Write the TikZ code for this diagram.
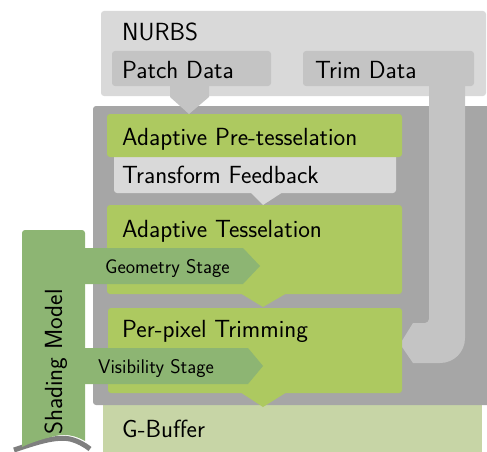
\documentclass[tikz,border=0pt]{standalone}
\usepackage{fontspec}
\definecolor{lgray}{HTML}{D9D9D9}
\definecolor{mgray}{HTML}{C4C4C4}
\definecolor{dgray}{HTML}{A6A6A6}
\definecolor{leaf}{HTML}{ADC960}
\definecolor{sage}{HTML}{8DB573}
\definecolor{pale}{HTML}{C7D5A6}
\definecolor{curl}{HTML}{7F7F7F}
\begin{document}
\begin{tikzpicture}[x=1pt,y=-1pt,
  box/.style={rounded corners=3pt},
  lbl/.style={anchor=base west,inner sep=0pt,font=\sffamily\fontsize{24.8}{30}\selectfont},
  slbl/.style={anchor=base west,inner sep=0pt,font=\sffamily\fontsize{19.8}{24}\selectfont}]
\useasboundingbox (0,0) rectangle (487,452);
% NURBS
\fill[lgray,box] (101,11) rectangle (486,96);
\fill[mgray,box] (112,51) rectangle (271,86);
\fill[mgray,box] (303,51) rectangle (474,86);
% G-Buffer
\fill[pale] (103,405) rectangle (482,452);
% dark stage box
\fill[dgray,box] (93,106) rectangle (490,405);
% patch tab
\fill[mgray] (170,84) -- (209,84) -- (209,97) -- (189,114) -- (170,97) -- cycle;
% trim pipe
\fill[mgray] (429,82) -- (429,319) [rounded corners=4pt] -- (429,323) [sharp corners] -- (413,323) -- (400,344) -- (413,363) -- (440,363)
  .. controls (454,363) and (465,352) .. (465,338) -- (465,82) -- cycle;
% green stages
\fill[lgray,box] (114,150) rectangle (396,193);
\fill[lgray] (250,192) -- (283,192) -- (263,205) -- cycle;
\fill[leaf,box] (107,114) rectangle (402,157);
\fill[leaf,box] (107,205) rectangle (402,294);
\fill[leaf] (240,293) -- (287,293) -- (263,307) -- cycle;
\fill[leaf,box] (108,308) rectangle (402,393);
\fill[leaf] (240,392) -- (287,392) -- (263,407) -- cycle;
% banner curl
\draw[curl,line width=5pt] (14,450) .. controls (35,443) and (55,436) .. (70,439) .. controls (78,441) and (85,445) .. (90,449);
% banner
\fill[sage,rounded corners=3pt] (22,447) -- (22,230) -- (85,230) [sharp corners] -- (85,441)
  .. controls (78,437) and (68,433) .. (55,436) .. controls (42,439) and (30,443) .. (22,447) -- cycle;
% stage arrows
\fill[sage] (84,248) -- (243,248) -- (260,266) -- (243,284) -- (84,284) -- cycle;
\fill[sage] (84,348) -- (248,348) -- (263,366) -- (248,384) -- (84,384) -- cycle;
% texts
\node[lbl] (nurbs) at (122,41) {NURBS};
\node[lbl] (patch) at (122,78) {Patch Data};
\node[lbl] (trim) at (315,78) {Trim Data};
\node[lbl] (pretess) at (122,145) {Adaptive Pre-tesselation};
\node[lbl] (tfb) at (122,183) {Transform Feedback};
\node[lbl] (tess) at (122,237) {Adaptive Tesselation};
\node[slbl] (geom) at (105,273) {Geometry Stage};
\node[lbl] (trimming) at (122,337) {Per-pixel Trimming};
\node[slbl] (vis) at (98,373) {Visibility Stage};
\node[lbl] (gbuf) at (122,437) {G-Buffer};
\node[lbl,rotate=90] (shading) at (62,435) {Shading Model};
\end{tikzpicture}
\end{document}
